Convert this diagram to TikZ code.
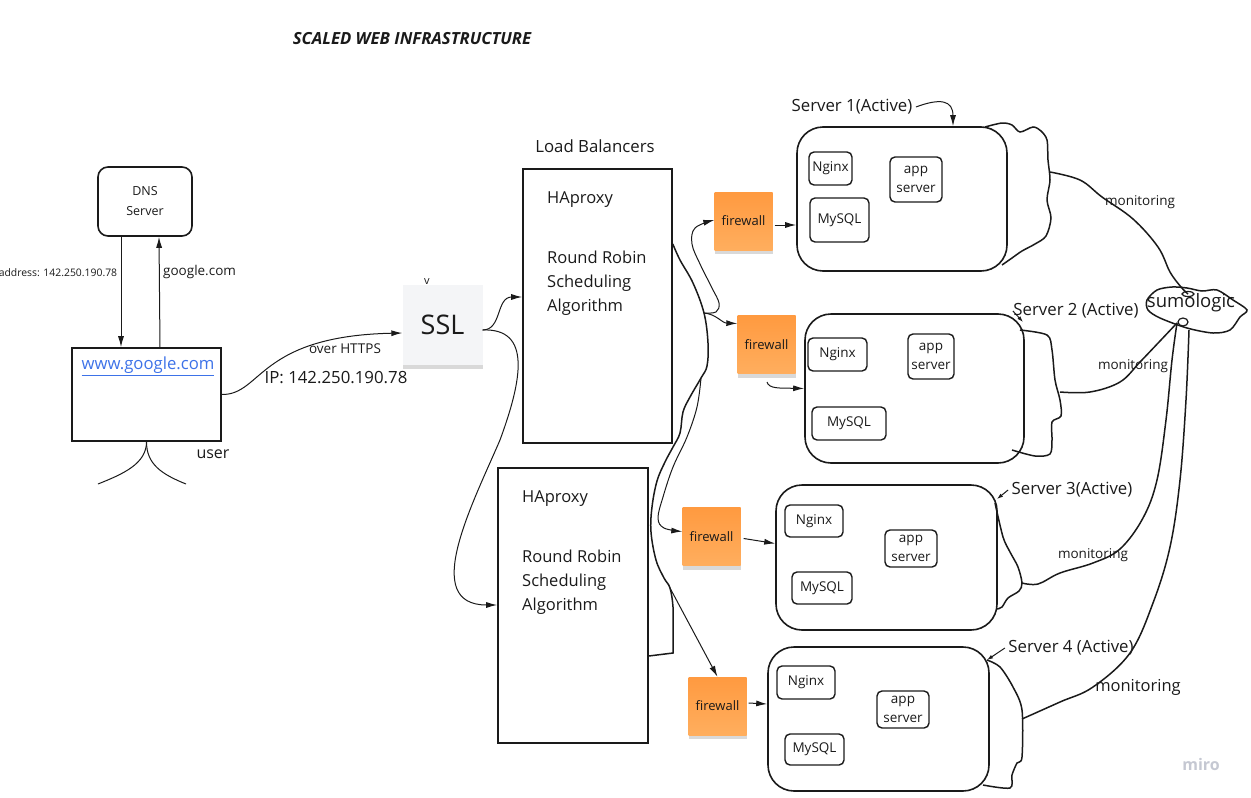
\documentclass[tikz,border=0pt]{standalone}
\usepackage{fontspec}
\setmainfont{Open Sans}
\usetikzlibrary{arrows.meta,shadows}
\definecolor{ink}{HTML}{1A1A1A}
\definecolor{fwtop}{HTML}{FF9A40}
\definecolor{fwbot}{HTML}{FFAE5E}
\definecolor{sslgray}{HTML}{F4F5F7}
\definecolor{linkblue}{HTML}{3D72E8}
\definecolor{mirogray}{HTML}{C5C8D2}

\tikzset{
  box/.style={draw=ink, line width=1.6pt, inner sep=0pt},
  rbox/.style={box, rounded corners=10pt},
  srv/.style={box, rounded corners=26pt},
  part/.style={draw=ink, line width=1.4pt, rounded corners=5pt, inner sep=0pt, align=center, text=ink, font=\fontsize{13.5}{19}\selectfont},
  sticky/.style={inner sep=0pt, drop shadow={shadow xshift=0pt, shadow yshift=-4pt, opacity=.3}},
  fwall/.style={sticky, top color=fwtop, bottom color=fwbot, minimum size=58, text=ink, font=\fontsize{13}{14}\selectfont},
  lbl/.style={text=ink, font=\fontsize{16.8}{18}\selectfont},
  lbtxt/.style={text=ink, inner sep=0pt, align=left, anchor=west, font=\fontsize{16.5}{24}\selectfont},
  small/.style={text=ink, font=\fontsize{13.5}{15}\selectfont},
  conn/.style={draw=ink, line width=1pt, -{Latex[length=11pt,width=6pt]}},
  tick/.style={draw=ink, line width=1pt, -{Latex[length=6pt,width=4pt]}},
  wire/.style={draw=ink, line width=1.5pt},
}

\begin{document}
\begin{tikzpicture}[x=1pt,y=-1pt]
\useasboundingbox (0,0) rectangle (1251,798);

\node[text=ink, font=\bfseries\itshape\fontsize{16.7}{18}\selectfont] (title) at (412,39) {SCALED WEB INFRASTRUCTURE};

% client and dns
\node[rbox, minimum width=94, minimum height=69, align=center, text=ink, font=\fontsize{12.5}{20}\selectfont] (dns) at (145,201.5) {DNS\\Server};
\node[box, minimum width=149, minimum height=93] (user) at (146.5,394.5) {};
\node[text=linkblue, font=\fontsize{16.7}{18}\selectfont] (url) at (148,366) {\underline{www.google.com}};
\node[lbl, font=\fontsize{16}{18}\selectfont] (usr) at (213,454) {user};
\coordinate (legL) at (98,484);
\coordinate (legR) at (186,484);
\draw[wire, line width=1pt] (user.south) .. controls +(0,22) and +(25,-10) .. (legL);
\draw[wire, line width=1pt] (user.south) .. controls +(0,22) and +(-25,-10) .. (legR);
\draw[conn] ([xshift=-24pt]dns.south) -- ([xshift=-25.5pt]user.north) node[pos=0.32, left, text=ink, font=\fontsize{10.4}{12}\selectfont] {address: 142.250.190.78};
\draw[conn] ([xshift=13.5pt]user.north) -- ([xshift=14pt]dns.south) node[pos=0.68, right, small] {google.com};

% ssl
\node[sticky, fill=sslgray, minimum size=80, text=ink, font=\fontsize{27}{30}\selectfont] (ssl) at (442.5,325) {SSL};
\node[text=ink, font=\fontsize{11}{12}\selectfont] (mark) at (427,282) {v};
\draw[conn] (user.east) .. controls (262,395) and (258,336) .. ([yshift=-8pt]ssl.west);
\node[small] (https) at (345,349) {over HTTPS};
\node[lbl] (ip) at (336,378) {IP: 142.250.190.78};

% load balancers
\node[lbl] (lbs) at (595,146) {Load Balancers};
\node[box, minimum width=149, minimum height=274] (lbA) at (597.5,306) {};
\node[lbtxt] (haA) at (547,200) {HAproxy};
\node[lbtxt] (rrA) at (547,283) {Round Robin\\Scheduling\\Algorithm};
\node[box, minimum width=150, minimum height=275] (lbB) at (573,605.5) {};
\node[lbtxt] (haB) at (522,499) {HAproxy};
\node[lbtxt] (rrB) at (522,582) {Round Robin\\Scheduling\\Algorithm};
\draw[conn] ([yshift=-5pt]ssl.east) .. controls (502,330) and (496,297) .. ([yshift=9pt]lbA.west);
\draw[conn] ([yshift=-5pt]ssl.east) .. controls (532,328) and (522,380) .. (500,440) .. controls (472,505) and (420,605) .. ([yshift=0.5pt]lbB.west);

% firewalls
\node[fwall] (fwA) at (743.5,221) {firewall};
\node[fwall] (fwB) at (766.5,344.5) {firewall};
\node[fwall] (fwC) at (711.5,536.5) {firewall};
\node[fwall] (fwD) at (717.5,706) {firewall};

\coordinate (jA) at (704,313);
\coordinate (jC) at (701,378);
\coordinate (jD) at (670,588);
\draw[wire] plot[smooth, tension=0.6] coordinates {([yshift=62pt]lbA.east) (680,260) (693,283) (jA) (708,343) (707,366) (jC) (690,397) (683,412) (680,433) (673,447) (665,462) (657,481) (652,507) (651,532) (656,560) (664,578) (jD) (673,607) (673,630) (673,653)} -- ([yshift=-50.5pt]lbB.east);
\draw[conn] plot[smooth, tension=0.6] coordinates {(jA) (716,312) (719,303) (712,288) (700,264) (692,244) (695,228) ([yshift=1pt]fwA.west)};
\draw[conn] (jA) .. controls (716,314) and (722,323) .. ([yshift=21pt]fwB.west);
\draw[conn] plot[smooth, tension=0.6] coordinates {(jC) (697,407) (687,437) (673,467) (663,497) (658,518) (664,528) ([yshift=5pt]fwC.west)};
\draw[conn] (jD) -- (fwD.north);

% servers
\node[srv, minimum width=210, minimum height=144] (srvA) at (902,199) {};
\node[part, minimum width=43, minimum height=33] (ngA) at (830.5,168.5) {Nginx};
\node[part, minimum width=52, minimum height=45] (apA) at (916,179.5) {app\\server};
\node[part, minimum width=59, minimum height=44] (dbA) at (839.5,220) {MySQL};

\node[srv, minimum width=219, minimum height=149] (srvB) at (914.5,388.5) {};
\node[part, minimum width=59, minimum height=33] (ngB) at (837.5,354.5) {Nginx};
\node[part, minimum width=46, minimum height=45] (apB) at (931,356.5) {app\\server};
\node[part, minimum width=74, minimum height=33] (dbB) at (849,423.5) {MySQL};

\node[srv, minimum width=221, minimum height=145] (srvC) at (886.5,557.5) {};
\node[part, minimum width=58, minimum height=32] (ngC) at (814,521) {Nginx};
\node[part, minimum width=52, minimum height=37] (apC) at (911,548.5) {app\\server};
\node[part, minimum width=60, minimum height=32] (dbC) at (822,588) {MySQL};

\node[srv, minimum width=221, minimum height=144] (srvD) at (878.5,719) {};
\node[part, minimum width=58, minimum height=33] (ngD) at (806,682.5) {Nginx};
\node[part, minimum width=52, minimum height=37] (apD) at (903,709.5) {app\\server};
\node[part, minimum width=59, minimum height=31] (dbD) at (814.5,749.5) {MySQL};

\draw[conn] ([shift={(2pt,-4pt)}]fwA.east) -- ([yshift=-26pt]srvA.west);
\coordinate (hookB) at (767,382);
\draw[conn] (hookB) .. controls (769,389) and (780,388) .. (srvB.west);
\draw[conn] ([shift={(3pt,-2pt)}]fwC.east) -- ([yshift=14pt]srvC.west);
\draw[conn] ([shift={(2pt,3pt)}]fwD.east) -- ([yshift=15pt]srvD.west);

% server names
\node[lbl] (nameA) at (852,107) {Server 1(Active)};
\draw[conn] (nameA.east) .. controls (940,98) and (953,100) .. ([xshift=51pt]srvA.north);
\node[lbl] (nameB) at (1076,311) {Server 2 (Active)};
\coordinate (tipB) at (1023,322);
\draw[tick] ([xshift=3pt]nameB.west) -- (tipB);
\node[lbl] (nameC) at (1072,490) {Server 3(Active)};
\coordinate (tipC) at (997,499);
\draw[tick] (nameC.west) -- (tipC);
\node[lbl] (nameD) at (1071,648) {Server 4 (Active)};
\coordinate (tipD) at (987,660);
\draw[tick] (nameD.west) -- (tipD);

% back outlines
\draw[wire] plot[smooth, tension=0.5] coordinates {(985,127) (1002,123) (1012,125) (1020,132) (1033,127) (1041,131) (1047,140) (1048,160) (1050,180) (1047,200) (1051,218) (1046,236) (1035,244) (1022,251) (1012,258) (1002,265)};
\draw[wire] plot[smooth, tension=0.5] coordinates {(1020,330) (1047,335) (1052,350) (1055,380) (1060,400) (1061,416) (1052,422) (1052,440) (1050,454) (1035,456) (1012,450)};
\draw[wire] plot[smooth, tension=0.5] coordinates {(995,503) (1003,537) (1010,552) (1018,567) (1022,583) (1019,591) (1008,598) (1002,607) (997,609)};
\draw[wire] plot[smooth, tension=0.5] coordinates {(987,660) (1000,667) (1013,687) (1022,710) (1022,757) (1017,763) (1012,775) (1010,788) (983,785)};

% sumologic
\node[text=ink, font=\fontsize{18.5}{20}\selectfont] (sumo) at (1191,303) {sumologic};
\draw[wire] plot[smooth cycle, tension=0.5] coordinates {(1147,300) (1157,290) (1172,287) (1187,288) (1202,291) (1217,290) (1233,300) (1247,310) (1240,317) (1230,330) (1213,333) (1187,328) (1160,318) (1148,310)};
\coordinate (sumoTop) at (1188,294);
\coordinate (sumoBotL) at (1177,323);
\coordinate (sumoBotR) at (1189,330);
\draw[wire, line width=1.2pt] (sumoTop) ellipse (6 and 2.5);
\draw[wire, line width=1.2pt] (1183,322) ellipse (5 and 4);

\coordinate (mA) at (1050,172);
\coordinate (mB) at (1060,392);
\coordinate (mC) at (1022,583);
\coordinate (mD) at (1022,719);
\draw[wire] plot[smooth, tension=0.6] coordinates {(mA) (1080,180) (1102,197) (1133,219) (1158,247) (1170,272) (1181,287) (sumoTop)};
\draw[wire] plot[smooth, tension=0.6] coordinates {(mB) (1090,392) (1120,382) (1140,362) (1160,341) (sumoBotL)};
\draw[wire] plot[smooth, tension=0.6] coordinates {(mC) (1038,584) (1060,573) (1093,563) (1120,549) (1143,518) (1157,480) (1166,420) (1172,360) (sumoBotL)};
\draw[wire] plot[smooth, tension=0.6] coordinates {(mD) (1060,702) (1093,687) (1130,653) (1153,603) (1170,547) (1180,480) (1186,400) (sumoBotR)};
\node[small] (monA) at (1140,202) {monitoring};
\node[small] (monB) at (1133,366) {monitoring};
\node[small] (monC) at (1093,555) {monitoring};
\node[lbl, font=\fontsize{16.5}{18}\selectfont] (monD) at (1138,687) {monitoring};

\node[text=mirogray, font=\bfseries\fontsize{16}{18}\selectfont] (miro) at (1201,764) {miro};
\end{tikzpicture}
\end{document}
